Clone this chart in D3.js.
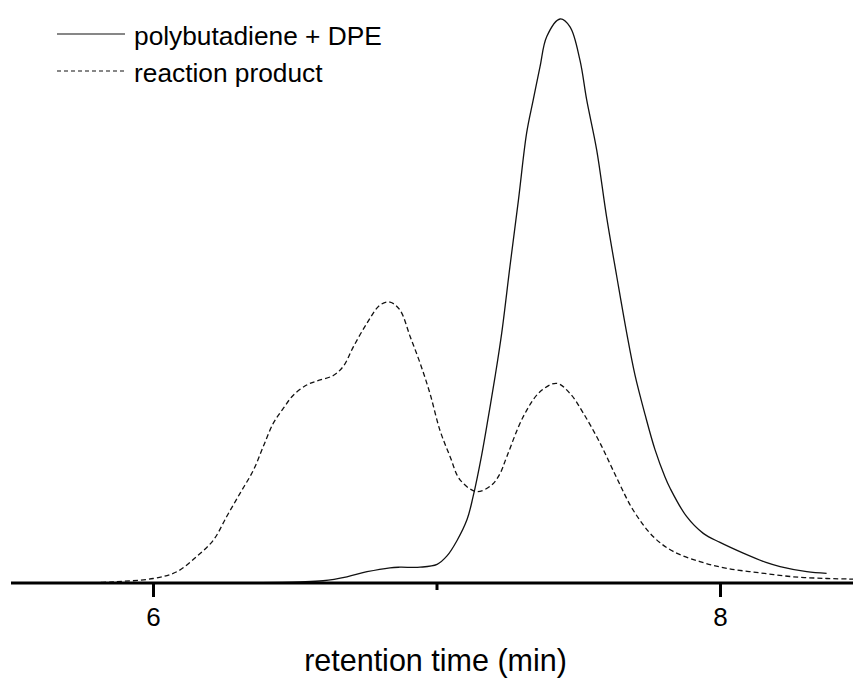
<!DOCTYPE html>
<html>
<head>
<meta charset="utf-8">
<script src="https://cdn.jsdelivr.net/npm/d3@7"></script>
<style>
  html, body { margin: 0; padding: 0; background: #fff; }
  svg { display: block; font-family: Arial, "Liberation Sans", sans-serif; }
</style>
</head>
<body>
<svg id="chart" width="853" height="680"></svg>
<script>
// GPC traces: retention time (min) vs. normalised detector response
const seriesNames = ["polybutadiene + DPE", "reaction product"];

const polybutadieneTime = [
  6.166, 6.519, 6.600, 6.684, 6.755, 6.836, 6.871, 6.942, 7.002, 7.037, 7.072,
  7.108, 7.129, 7.159, 7.183, 7.206, 7.230, 7.259, 7.289, 7.318, 7.341, 7.365,
  7.389, 7.436, 7.471, 7.506, 7.530, 7.565, 7.600, 7.636, 7.671, 7.700, 7.736,
  7.771, 7.806, 7.824, 7.882, 7.941, 8.000, 8.082, 8.165, 8.212, 8.306, 8.376
];
const polybutadieneSignal = [
  0.0, 0.2, 0.4, 1.1, 2.0, 2.7, 2.8, 2.8, 3.3, 4.8, 7.5,
  11.3, 15.3, 22.6, 29.5, 36.4, 44.3, 56.1, 67.9, 79.8, 85.6, 91.5,
  96.9, 100.0, 98.6, 92.7, 85.6, 76.8, 64.9, 54.3, 44.3, 36.9, 29.8,
  23.6, 18.8, 16.8, 11.8, 8.8, 7.2, 5.3, 3.6, 2.9, 2.0, 1.7
];

const productTime = [
  5.760, 5.860, 6.001, 6.084, 6.154, 6.213, 6.260, 6.307, 6.354, 6.389, 6.424,
  6.460, 6.495, 6.542, 6.577, 6.636, 6.671, 6.707, 6.754, 6.801, 6.836, 6.871,
  6.907, 6.942, 6.977, 7.012, 7.048, 7.083, 7.142, 7.195, 7.224, 7.248, 7.306,
  7.365, 7.424, 7.471, 7.518, 7.577, 7.636, 7.694, 7.765, 7.835, 7.929, 8.024,
  8.141, 8.259, 8.376, 8.458, 8.497
];
const productSignal = [
  0.0, 0.2, 0.8, 2.0, 4.7, 7.6, 11.8, 15.9, 20.0, 24.2, 28.3,
  31.0, 33.3, 35.1, 35.8, 36.8, 38.4, 41.9, 46.0, 49.3, 49.8, 48.4,
  43.7, 39.0, 33.6, 27.1, 22.4, 18.3, 16.2, 17.4, 19.4, 22.4, 29.5,
  33.9, 35.4, 33.6, 30.1, 24.8, 18.6, 12.9, 8.2, 5.6, 3.8, 2.6,
  1.8, 1.1, 0.8, 0.7, 0.6
];

const majorTicks = [6, 8];
const minorTicks = [7];
const xTitle = "retention time (min)";

const svg = d3.select("#chart");

const x = d3.scaleLinear().domain([5.5, 8.5]).range([11.25, 861.75]);
const y = d3.scaleLinear().domain([0, 100]).range([583, 19]);

const line = d3.line()
  .x(d => x(d[0]))
  .y(d => y(d[1]))
  .curve(d3.curveCatmullRom.alpha(0.5));

const pbPoints = polybutadieneTime.map((t, i) => [t, polybutadieneSignal[i]]);
const prPoints = productTime.map((t, i) => [t, productSignal[i]]);

// traces
svg.append("path")
  .datum(prPoints)
  .attr("d", line)
  .attr("fill", "none")
  .attr("stroke", "#111")
  .attr("stroke-width", 1.3)
  .attr("stroke-dasharray", "5,3");

svg.append("path")
  .datum(pbPoints)
  .attr("d", line)
  .attr("fill", "none")
  .attr("stroke", "#111")
  .attr("stroke-width", 1.3);

// x axis: labelled major ticks plus an unlabelled minor tick
const axisG = svg.append("g").attr("transform", "translate(0,583)");
axisG.call(d3.axisBottom(x).tickValues(majorTicks).tickSize(14).tickSizeOuter(0)
  .tickFormat(d3.format("d")));
axisG.select(".domain").remove();
axisG.append("line")
  .attr("x1", 11).attr("x2", 853)
  .attr("stroke", "#000").attr("stroke-width", 3);
axisG.selectAll(".tick line").attr("stroke", "#000").attr("stroke-width", 3);
axisG.selectAll(".tick text")
  .attr("fill", "#000")
  .attr("font-size", 26)
  .attr("font-family", "Arial, 'Liberation Sans', sans-serif")
  .attr("dy", null)
  .attr("y", 43);

const minorG = svg.append("g").attr("transform", "translate(0,583)");
minorG.call(d3.axisBottom(x).tickValues(minorTicks).tickSize(7).tickSizeOuter(0).tickFormat(""));
minorG.select(".domain").remove();
minorG.selectAll(".tick line").attr("stroke", "#000").attr("stroke-width", 3);

// axis title
svg.append("text")
  .attr("x", x(7) - 1)
  .attr("y", 671)
  .attr("text-anchor", "middle")
  .attr("font-size", 30.5)
  .attr("fill", "#000")
  .text(xTitle);

// legend
const legend = svg.append("g");
const legendRows = [
  { name: seriesNames[0], dash: null, y: 34 },
  { name: seriesNames[1], dash: "4,3", y: 71 }
];
legendRows.forEach(r => {
  legend.append("line")
    .attr("x1", 57).attr("x2", 125)
    .attr("y1", r.y).attr("y2", r.y)
    .attr("stroke", "#111")
    .attr("stroke-width", 1.2)
    .attr("stroke-dasharray", r.dash);
  legend.append("text")
    .attr("x", 134)
    .attr("y", r.y + 11)
    .attr("font-size", 26.3)
    .attr("fill", "#000")
    .text(r.name);
});
</script>
</body>
</html>
